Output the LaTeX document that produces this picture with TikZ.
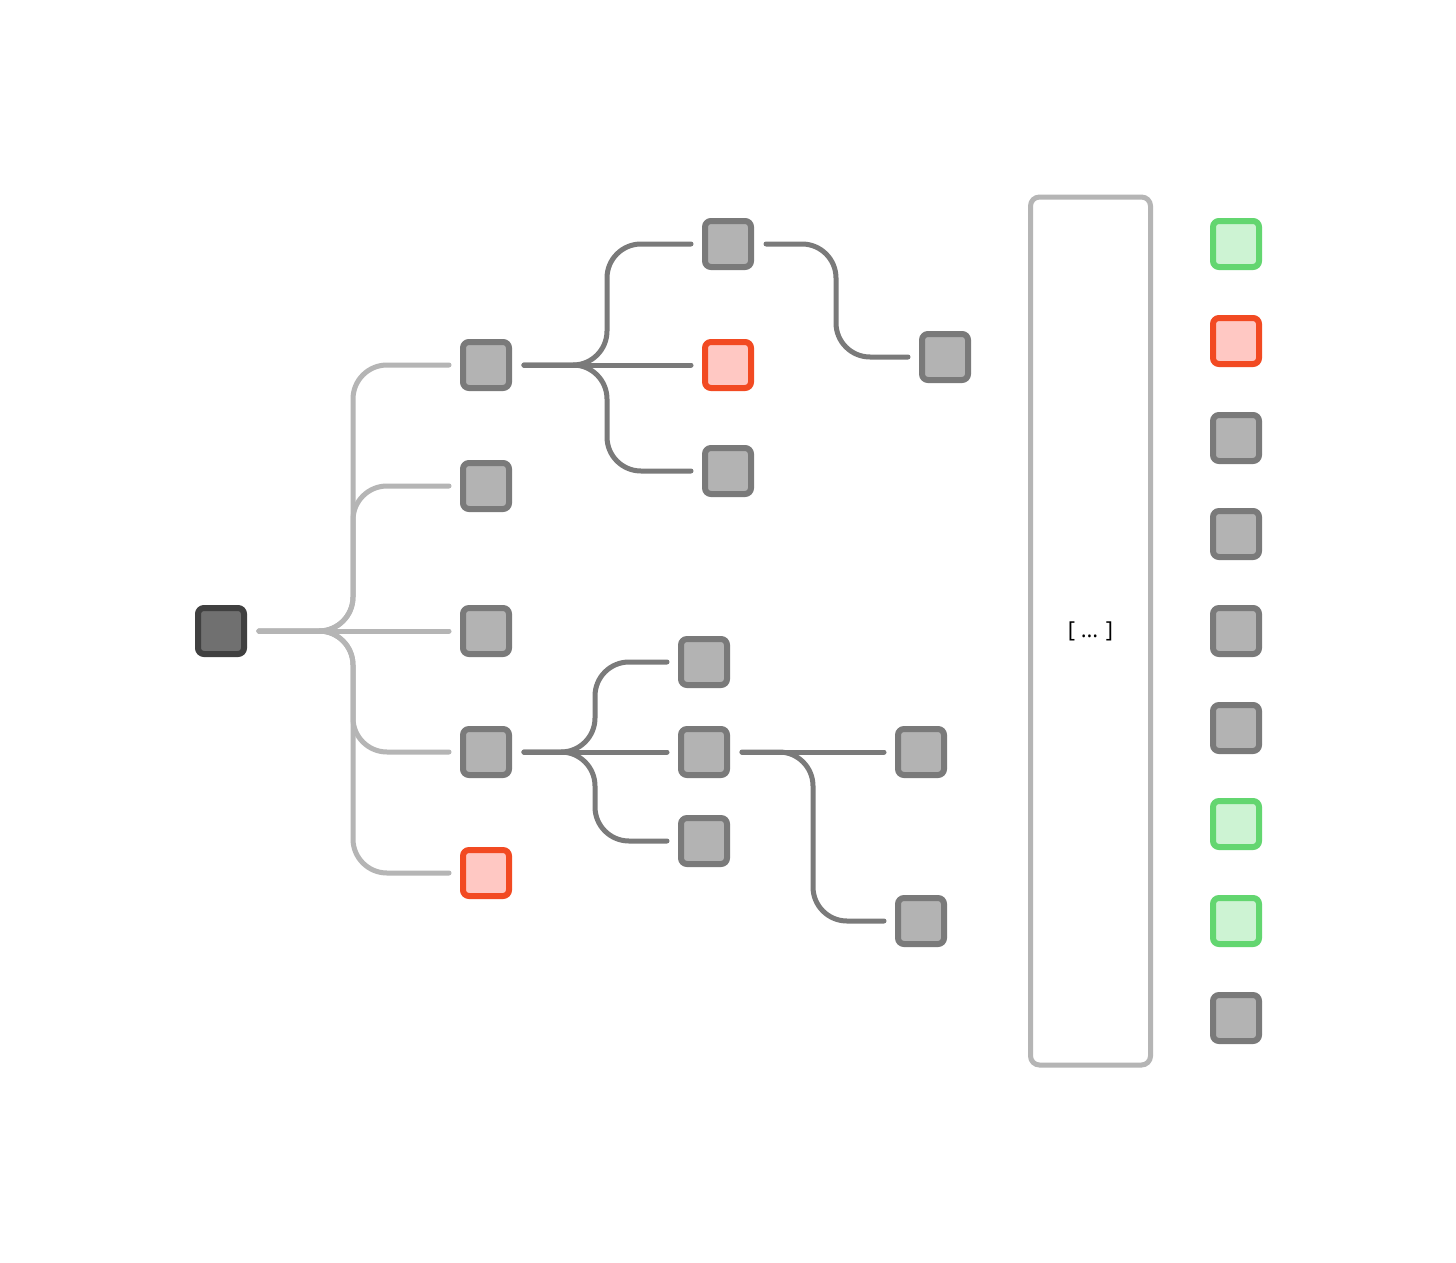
\documentclass[tikz,border=0pt]{standalone}
\usepackage{fontspec}
\setsansfont{Open Sans}
\definecolor{boxfill}{HTML}{B3B3B3}
\definecolor{boxline}{HTML}{7A7A7A}
\definecolor{rootfill}{HTML}{707070}
\definecolor{rootline}{HTML}{404040}
\definecolor{redfill}{HTML}{FFC8C3}
\definecolor{redline}{HTML}{F24A22}
\definecolor{greenfill}{HTML}{CDF3D3}
\definecolor{greenline}{HTML}{63D670}
\definecolor{lightline}{HTML}{B5B5B5}
\definecolor{darkline}{HTML}{7A7A7A}
\begin{document}
\begin{tikzpicture}[x=1pt,y=-1pt,
  box/.style={draw=boxline, fill=boxfill, line width=6pt, rounded corners=6pt, minimum size=46pt, inner sep=0pt},
  rootbox/.style={box, draw=rootline, fill=rootfill},
  redbox/.style={box, draw=redline, fill=redfill},
  greenbox/.style={box, draw=greenline, fill=greenfill},
  conn/.style={line width=5pt, line cap=round, rounded corners=34pt},
  light/.style={conn, draw=lightline},
  dark/.style={conn, draw=darkline},
  panel/.style={draw=lightline, fill=white, line width=5pt, rounded corners=9pt, minimum width=120pt, minimum height=868pt, inner sep=0pt, font=\sffamily\fontsize{22}{26}\selectfont}
]
\fill[white] (0,0) rectangle (1456,1263);
\useasboundingbox (0,0) rectangle (1456,1263);

% nodes
\node[rootbox] (root) at (221,631) {};
\node[box] (a1) at (486,365) {};
\node[box] (a2) at (486,486) {};
\node[box] (a3) at (486,631) {};
\node[box] (a4) at (486,752) {};
\node[redbox] (a5) at (486,873) {};

\node[box] (b1) at (728,244) {};
\node[redbox] (b2) at (728,365) {};
\node[box] (b3) at (728,471) {};
\node[box] (c1) at (945,357) {};

\node[box] (d1) at (704,662) {};
\node[box] (d2) at (704,752) {};
\node[box] (d3) at (704,841) {};
\node[box] (e1) at (921,752) {};
\node[box] (e2) at (921,921) {};

\node[panel] (p) at (1090.5,631) {[ ... ]};

\node[greenbox] (f1) at (1236,244) {};
\node[redbox] (f2) at (1236,341) {};
\node[box] (f3) at (1236,438) {};
\node[box] (f4) at (1236,534) {};
\node[box] (f5) at (1236,631) {};
\node[box] (f6) at (1236,728) {};
\node[greenbox] (f7) at (1236,824) {};
\node[greenbox] (f8) at (1236,921) {};
\node[box] (f9) at (1236,1018) {};

% branch columns
\coordinate (v1) at (353,631);
\coordinate (v2) at (607,365);
\coordinate (v3) at (836,244);
\coordinate (v4) at (595,752);
\coordinate (v5) at (813,752);

% root tree
\draw[light] ([xshift=12pt]root.east) -| (v1 |- a1.west) -- ([xshift=-11pt]a1.west);
\draw[light] ([xshift=12pt]root.east) -| (v1 |- a2.west) -- ([xshift=-11pt]a2.west);
\draw[light] ([xshift=12pt]root.east) -- ([xshift=-11pt]a3.west);
\draw[light] ([xshift=12pt]root.east) -| (v1 |- a4.west) -- ([xshift=-11pt]a4.west);
\draw[light] ([xshift=12pt]root.east) -| (v1 |- a5.west) -- ([xshift=-11pt]a5.west);

% top subtree
\draw[dark] ([xshift=12pt]a1.east) -| (v2 |- b1.west) -- ([xshift=-11pt]b1.west);
\draw[dark] ([xshift=12pt]a1.east) -- ([xshift=-11pt]b2.west);
\draw[dark] ([xshift=12pt]a1.east) -| (v2 |- b3.west) -- ([xshift=-11pt]b3.west);
\draw[dark] ([xshift=12pt]b1.east) -| (v3 |- c1.west) -- ([xshift=-11pt]c1.west);

% bottom subtree
\draw[dark] ([xshift=12pt]a4.east) -| (v4 |- d1.west) -- ([xshift=-11pt]d1.west);
\draw[dark] ([xshift=12pt]a4.east) -- ([xshift=-11pt]d2.west);
\draw[dark] ([xshift=12pt]a4.east) -| (v4 |- d3.west) -- ([xshift=-11pt]d3.west);
\draw[dark] ([xshift=12pt]d2.east) -- ([xshift=-11pt]e1.west);
\draw[dark] ([xshift=12pt]d2.east) -| (v5 |- e2.west) -- ([xshift=-11pt]e2.west);
\end{tikzpicture}
\end{document}
